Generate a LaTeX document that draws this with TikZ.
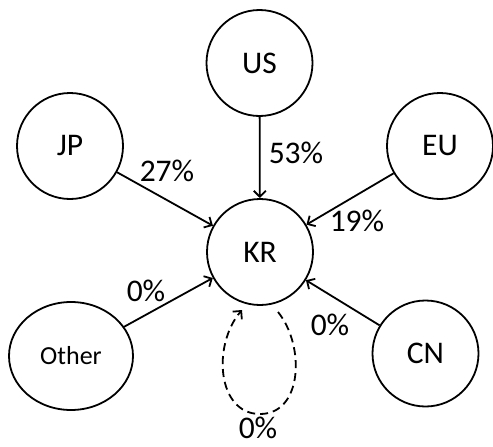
\documentclass[tikz,border=0pt]{standalone}
\usepackage{fontspec}
\setmainfont{Carlito}
\usetikzlibrary{arrows.meta,shapes.geometric}
\tikzset{
  country/.style={circle, draw, line width=1.8pt, minimum size=106pt, inner sep=0pt, font=\fontsize{31.5}{36}\selectfont},
  othernode/.style={ellipse, draw, line width=1.8pt, minimum width=124pt, minimum height=108pt, inner sep=0pt, font=\fontsize{26}{30}\selectfont},
  flow/.style={line width=1.8pt, -{Straight Barb[length=6pt,width=12pt,line width=1.8pt]}},
  pct/.style={font=\fontsize{31.5}{36}\selectfont, inner sep=0pt}
}
\begin{document}
\begin{tikzpicture}[x=1pt,y=-1pt]
\useasboundingbox (0,0) rectangle (493,447);
\node[country] (US) at (259.5,63) {US};
\node[country] (JP) at (70,146) {JP};
\node[country] (EU) at (440,146) {EU};
\node[country] (KR) at (260,252) {KR};
\node[othernode] (OT) at (71,356) {Other};
\node[country] (CN) at (425.5,353.5) {CN};
\draw[flow] (US) -- (KR);
\draw[flow] (JP) -- (KR);
\draw[flow] (EU) -- (KR);
\draw[flow] (OT) -- (KR);
\draw[flow] (CN) -- (KR);
\coordinate (ls) at (278,312);
\coordinate (le) at (242,310);
\draw[flow, dash pattern=on 8pt off 5pt] (ls) .. controls (305,345) and (303,414) .. (260,414) .. controls (217,414) and (212,345) .. (le);
\node[pct] (l1) at (296,153) {53\%};
\node[pct] (l2) at (167,171) {27\%};
\node[pct] (l3) at (357,221) {19\%};
\node[pct] (l4) at (146,291) {0\%};
\node[pct] (l5) at (330,325) {0\%};
\node[pct] (l6) at (258,428) {0\%};
\end{tikzpicture}
\end{document}
